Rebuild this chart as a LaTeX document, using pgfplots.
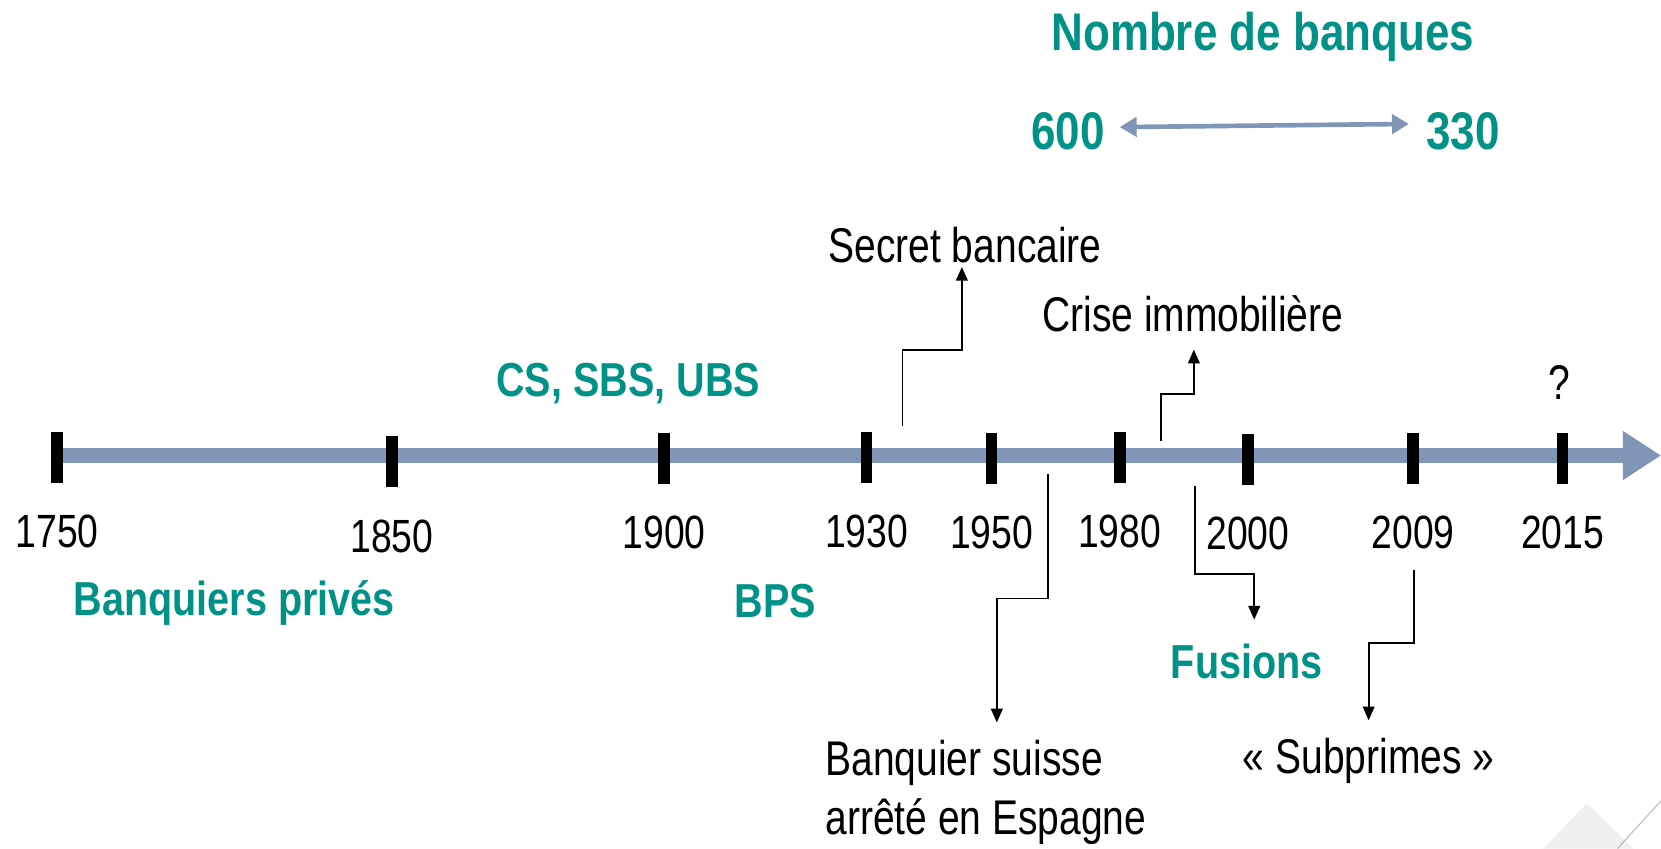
\documentclass[border=0pt]{standalone}
\usepackage{pgfplots}
\pgfplotsset{compat=1.18}
\usepackage{pgfplotstable}
\usepackage{fontspec}
\setmainfont{Liberation Sans}
\newfontfamily\nar{Liberation Sans}[FakeStretch=0.8]
\newfontfamily\narb{Liberation Sans Bold}[FakeStretch=0.83]
\usetikzlibrary{arrows.meta}
\definecolor{teal1}{RGB}{0,145,135}
\definecolor{tline}{RGB}{127,150,182}
\definecolor{tri}{RGB}{240,240,240}
\newcommand\tb{\narb\fontsize{22.5}{27}\selectfont\color{teal1}}
\newcommand\tbig{\narb\fontsize{25}{30}\selectfont\color{teal1}}
\newcommand\rg{\nar\fontsize{23}{28}\selectfont}
\pgfplotstableread{
x y label
54 432 1750
370 436 1850
627 433 1900
818 432 1930
936 433 1950
1057 432 1980
1178 434 2000
1334 433 2009
1475 433 2015
}\ticks
\begin{document}
\begin{tikzpicture}
\begin{axis}[width=784pt, height=400.5pt, scale only axis,
  xmin=0, xmax=1568, ymin=0, ymax=801, y dir=reverse,
  hide axis, clip=false]
% decoration bottom right
\fill[tri] (axis cs:1457,801) -- (axis cs:1498,758) -- (axis cs:1542,801) -- cycle;
\draw[gray!55, line width=0.5pt] (axis cs:1527,801) -- (axis cs:1568,756);
% timeline
\addplot[tline, line width=7pt, -{Triangle[length=18pt,width=22pt]}] coordinates {(54,430) (1568,430)};
% ticks with years
\addplot[only marks, mark=|, mark size=12pt, mark options={line width=5.5pt, black},
  point meta=explicit symbolic,
  nodes near coords={\nar\fontsize{22}{26}\selectfont\pgfplotspointmeta},
  every node near coord/.append style={anchor=center, yshift=-35pt, black}]
  table[x=x, y=y, meta=label] {\ticks};
% top: number of banks
\node at (axis cs:1192,35) {\tbig Nombre de banques};
\node at (axis cs:1008,124) {\tbig 600};
\node at (axis cs:1381,124) {\tbig 330};
\draw[tline, line width=2.2pt, {Triangle[length=8pt,width=9pt]}-{Triangle[length=8pt,width=9pt]}] (axis cs:1057,120) -- (axis cs:1330,117);
% teal labels
\node at (axis cs:593,362) {\tb CS, SBS, UBS};
\node at (axis cs:221,569) {\tb Banquiers privés};
\node at (axis cs:732,567) {\tb BPS};
\node at (axis cs:1177,624) {\tb Fusions};
% black annotations
\node at (axis cs:911,231) {\rg Secret bancaire};
\node at (axis cs:1126,296) {\rg Crise immobilière};
\node at (axis cs:1472,361) {\rg ?};
\node[anchor=west, inner sep=0pt] at (axis cs:779,720) {\rg Banquier suisse};
\node[anchor=west, inner sep=0pt] at (axis cs:779,776) {\rg arrêté en Espagne};
\node at (axis cs:1292,718) {\rg « Subprimes »};
% connector arrows
\draw[line width=0.9pt, -{Triangle[length=6.5pt,width=5.5pt]}] (axis cs:852,402) -- (axis cs:852,330) -- (axis cs:908,330) -- (axis cs:908,252);
\draw[line width=0.9pt, -{Triangle[length=6.5pt,width=5.5pt]}] (axis cs:1096,416) -- (axis cs:1096,372) -- (axis cs:1127,372) -- (axis cs:1127,330);
\draw[line width=0.9pt, -{Triangle[length=6.5pt,width=5.5pt]}] (axis cs:989,447) -- (axis cs:989,565) -- (axis cs:941,565) -- (axis cs:941,682);
\draw[line width=0.9pt, -{Triangle[length=6.5pt,width=5.5pt]}] (axis cs:1128,459) -- (axis cs:1128,542) -- (axis cs:1184,542) -- (axis cs:1184,585);
\draw[line width=0.9pt, -{Triangle[length=6.5pt,width=5.5pt]}] (axis cs:1335,538) -- (axis cs:1335,607) -- (axis cs:1292,607) -- (axis cs:1292,680);
\end{axis}
\pgfresetboundingbox
\path[use as bounding box] (current axis.south west) rectangle (current axis.north east);
\end{tikzpicture}
\end{document}
